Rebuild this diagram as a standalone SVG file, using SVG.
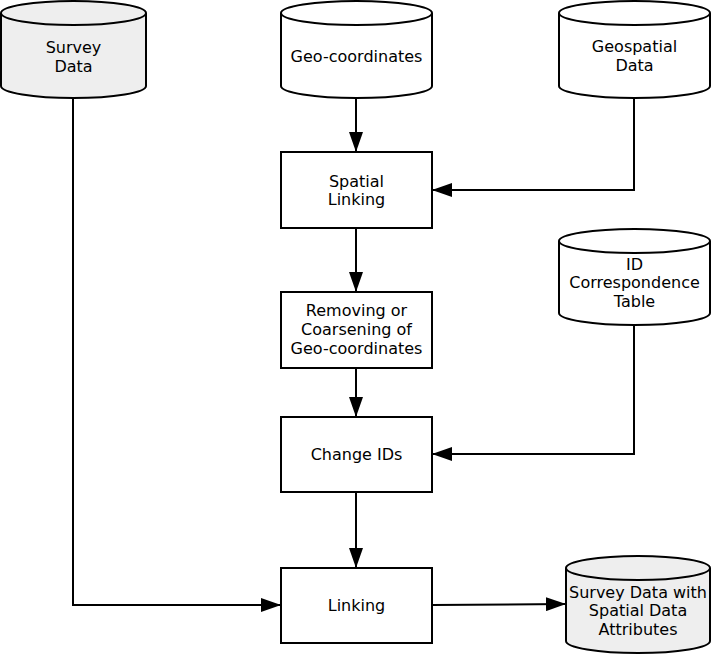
<svg xmlns="http://www.w3.org/2000/svg" width="712" height="656" viewBox="0 0 712 656">
<defs>
<marker id="ah" viewBox="0 0 20 14" refX="20" refY="7" markerWidth="20" markerHeight="14" markerUnits="userSpaceOnUse" orient="auto">
<path d="M0,0 L20,7 L0,14 z" fill="#000"/>
</marker>
</defs>
<style>
.cyl{stroke:#000;stroke-width:2;fill:#fff}
.grey{fill:#eeeeee}
.box{stroke:#000;stroke-width:2;fill:#fff}
.t{font-family:"DejaVu Sans",sans-serif;font-size:16px;text-anchor:middle;dominant-baseline:central;fill:#000}
.c{stroke:#000;stroke-width:2;fill:none;marker-end:url(#ah)}
</style>
<rect width="712" height="656" fill="#fff"/>
<g id="survey-data">
<path class="cyl grey" d="M1,13 a72.5,12 0 0,1 145,0 v73 a72.5,12 0 0,1 -145,0 z"/>
<path class="cyl" style="fill:none" d="M1,13 a72.5,12 0 0,0 145,0"/>
<text class="t" x="73.5" y="47">Survey</text>
<text class="t" x="73.5" y="66">Data</text>
</g>
<g id="geo-coordinates">
<path class="cyl" d="M281,13 a75.5,12 0 0,1 151,0 v73 a75.5,12 0 0,1 -151,0 z"/>
<path class="cyl" style="fill:none" d="M281,13 a75.5,12 0 0,0 151,0"/>
<text class="t" x="356.5" y="56">Geo-coordinates</text>
</g>
<g id="geospatial-data">
<path class="cyl" d="M559,13 a75.5,12 0 0,1 151,0 v73 a75.5,12 0 0,1 -151,0 z"/>
<path class="cyl" style="fill:none" d="M559,13 a75.5,12 0 0,0 151,0"/>
<text class="t" x="634.5" y="46">Geospatial</text>
<text class="t" x="634.5" y="65">Data</text>
</g>
<g id="spatial-linking">
<rect class="box" x="281" y="152" width="151" height="76"/>
<text class="t" x="356.5" y="181">Spatial</text>
<text class="t" x="356.5" y="199">Linking</text>
</g>
<g id="id-correspondence">
<path class="cyl" d="M559,241 a75.5,12 0 0,1 151,0 v72 a75.5,12 0 0,1 -151,0 z"/>
<path class="cyl" style="fill:none" d="M559,241 a75.5,12 0 0,0 151,0"/>
<text class="t" x="634.5" y="264">ID</text>
<text class="t" x="634.5" y="282">Correspondence</text>
<text class="t" x="634.5" y="301">Table</text>
</g>
<g id="removing">
<rect class="box" x="281" y="292" width="151" height="76"/>
<text class="t" x="356.5" y="310">Removing or</text>
<text class="t" x="356.5" y="329">Coarsening of</text>
<text class="t" x="356.5" y="348">Geo-coordinates</text>
</g>
<g id="change-ids">
<rect class="box" x="281" y="417" width="151" height="75"/>
<text class="t" x="356.5" y="454">Change IDs</text>
</g>
<g id="linking">
<rect class="box" x="281" y="568" width="151" height="75"/>
<text class="t" x="356.5" y="605">Linking</text>
</g>
<g id="survey-data-spatial">
<path class="cyl grey" d="M566,568 a72,12 0 0,1 144,0 v73 a72,12 0 0,1 -144,0 z"/>
<path class="cyl" style="fill:none" d="M566,568 a72,12 0 0,0 144,0"/>
<text class="t" x="638" y="592">Survey Data with</text>
<text class="t" x="638" y="610">Spatial Data</text>
<text class="t" x="638" y="629">Attributes</text>
</g>
<g id="connectors">
<path class="c" d="M356,98 V152"/>
<path class="c" d="M634,98 V190 H432"/>
<path class="c" d="M356,228 V292"/>
<path class="c" d="M356,368 V417"/>
<path class="c" d="M634,325 V454 H432"/>
<path class="c" d="M356,492 V568"/>
<path class="c" d="M73,98 V605 H281"/>
<path class="c" d="M432,605 L566,604"/>
</g>
</svg>
